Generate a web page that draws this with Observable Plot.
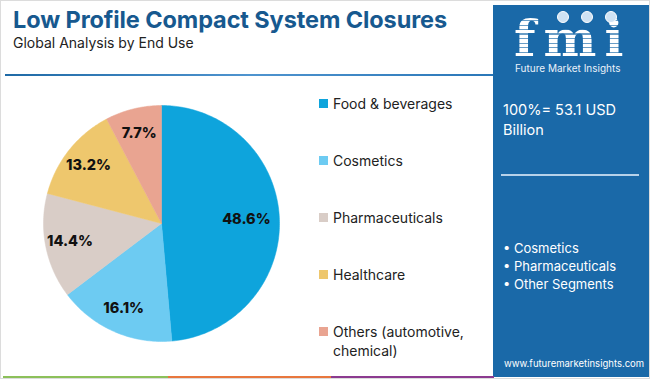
<!DOCTYPE html>
<html>
<head>
<meta charset="utf-8">
<script src="https://cdn.jsdelivr.net/npm/d3@7"></script>
<script src="https://cdn.jsdelivr.net/npm/@observablehq/plot@0.6"></script>
<style>
  html, body { margin: 0; padding: 0; background: #fff; }
  #root { position: relative; width: 650px; height: 379px; overflow: hidden; font-family: Inter, "Open Sans", sans-serif; box-sizing: border-box; border: 1px solid #dcdcdc; }
  .abs { position: absolute; white-space: nowrap; }
  #title { left: 12px; top: 4px; font-size: 23.5px; font-weight: 700; color: #17598f; letter-spacing: -0.1px; }
  #subtitle { left: 12px; top: 33px; font-size: 14px; color: #222; }
  #hline { left: 4px; top: 73px; width: 488px; height: 2px; background: linear-gradient(90deg, #1f6aa6, #4f94cf 50%, #2a77b8); }
  #pie { left: 42px; top: 104px; }
  #pie svg { overflow: visible; }
  .leg { left: 318px; font-size: 14px; color: #222; line-height: 19px; display: flex; align-items: flex-start; }
  .leg .sw { width: 9px; height: 9px; margin-right: 5px; margin-top: 5px; flex: none; }
  #side { left: 492px; top: 4px; width: 156px; height: 372px; background: #1a69a8; color: #fff; }
  #side .t { position: absolute; white-space: nowrap; }
  #stripe { left: 2px; top: 375px; height: 4px; display: flex; }
  .logo { background: repeating-linear-gradient(180deg, #fff 0 3px, rgba(255,255,255,0.35) 3px 4.5px); -webkit-background-clip: text; background-clip: text; color: transparent !important; }
  .dot { position: absolute; width: 10px; height: 10px; border-radius: 50%; border: 1.5px solid #fff; background: #cfe2f3; }
</style>
</head>
<body>
<div id="root">
  <div id="title" class="abs"></div>
  <div id="subtitle" class="abs"></div>
  <div id="hline" class="abs"></div>
  <div id="pie" class="abs"></div>
  <div id="legend"></div>
  <div id="side" class="abs"></div>
  <div id="stripe" class="abs"></div>
</div>
<script>
// ---- Data ----
const titleText = "Low Profile Compact System Closures";
const subtitleText = "Global Analysis by End Use";
const categories = ["Food & beverages", "Cosmetics", "Pharmaceuticals", "Healthcare", "Others (automotive, chemical)"];
const shares = [48.6, 16.1, 14.4, 13.2, 7.7];
const colors = ["#0ea4dc", "#6dcbf2", "#d9cdc7", "#eec76d", "#e9a491"];
const totalText = ["100%= 53.1 USD", "Billion"];
const sideSegments = ["Cosmetics", "Pharmaceuticals", "Other Segments"];
const brandName = "Future Market Insights";
const siteUrl = "www.futuremarketinsights.com";
const stripeColors = ["#8cc05a", "#e8773d", "#8c3b90"];

// ---- Header ----
document.getElementById("title").textContent = titleText;
document.getElementById("subtitle").textContent = subtitleText;

// ---- Pie via Plot ----
const table = categories.map((name, i) => ({name, value: shares[i]}));
const arcs = d3.pie().sort(null).value(d => d.value)(table);
const polys = [];
for (const a of arcs) {
  const n = Math.max(2, Math.ceil((a.endAngle - a.startAngle) / (Math.PI / 180)));
  polys.push({name: a.data.name, x: 0, y: 0});
  for (let k = 0; k <= n; k++) {
    const t = a.startAngle + (a.endAngle - a.startAngle) * k / n;
    polys.push({name: a.data.name, x: Math.sin(t), y: Math.cos(t)});
  }
  polys.push({name: a.data.name, x: 0, y: 0});
}
const labels = arcs.map(a => {
  const m = (a.startAngle + a.endAngle) / 2;
  const r = a.data.value > 40 ? 0.72 : 0.79;
  return {x: r * Math.sin(m), y: r * Math.cos(m), text: a.data.value.toFixed(1) + "%"};
});

const chart = Plot.plot({
  width: 236, height: 236,
  margin: 0,
  x: {domain: [-1, 1], axis: null},
  y: {domain: [-1, 1], axis: null},
  color: {domain: categories, range: colors},
  style: {background: "transparent", overflow: "visible"},
  marks: [
    Plot.line(polys, {x: "x", y: "y", z: "name", fill: "name", stroke: "name", strokeWidth: 0.5, curve: "linear"}),
    Plot.text(labels, {x: "x", y: "y", text: "text", fill: "#111", fontSize: 14.5, fontWeight: 800, fontFamily: "Inter, sans-serif"})
  ]
});
document.getElementById("pie").appendChild(chart);

// ---- Legend ----
const legTops = [93, 150, 207, 264, 321];
const legend = document.getElementById("legend");
categories.forEach((c, i) => {
  const d = document.createElement("div");
  d.className = "abs leg";
  d.style.top = legTops[i] + "px";
  const sw = document.createElement("span");
  sw.className = "sw"; sw.style.background = colors[i];
  const tx = document.createElement("span");
  tx.style.whiteSpace = "normal";
  tx.style.width = "160px";
  tx.textContent = c;
  d.appendChild(sw); d.appendChild(tx);
  legend.appendChild(d);
});

// ---- Sidebar ----
const side = document.getElementById("side");
function addT(text, left, top, style) {
  const e = document.createElement("div");
  e.className = "t"; e.textContent = text;
  e.style.left = left + "px"; e.style.top = top + "px";
  Object.assign(e.style, style || {});
  side.appendChild(e);
  return e;
}
const logo = addT("fmi", 21, 12, {fontFamily: "'DejaVu Serif', serif", fontWeight: "700", fontSize: "50px", letterSpacing: "8px", lineHeight: "44px"});
logo.classList.add("logo");
[[64, 6], [88, 6], [112, 6]].forEach(([l, t]) => {
  const c = document.createElement("div");
  c.className = "dot"; c.style.left = l + "px"; c.style.top = t + "px";
  side.appendChild(c);
});
addT(brandName, 22, 57, {fontSize: "10px", lineHeight: "12px", color: "#eaf2fa"});
addT(totalText[0], 10, 96, {fontSize: "14.5px", lineHeight: "18px"});
addT(totalText[1], 10, 116, {fontSize: "14.5px", lineHeight: "18px"});
const rule = document.createElement("div");
rule.className = "t";
Object.assign(rule.style, {left: "8px", top: "169px", width: "138px", height: "1.5px", background: "#b7d2ea"});
side.appendChild(rule);
sideSegments.forEach((s, i) => addT("• " + s, 10, 235 + i * 18, {fontSize: "13px", lineHeight: "17px"}));
addT(siteUrl, 11, 352, {fontSize: "9.5px", lineHeight: "14px"});

// ---- Bottom stripe ----
const stripe = document.getElementById("stripe");
const stripeW = [165, 163, 163];
stripeColors.forEach((c, i) => {
  const s = document.createElement("div");
  s.style.width = stripeW[i] + "px"; s.style.height = "4px"; s.style.background = c;
  stripe.appendChild(s);
});
</script>
</body>
</html>
